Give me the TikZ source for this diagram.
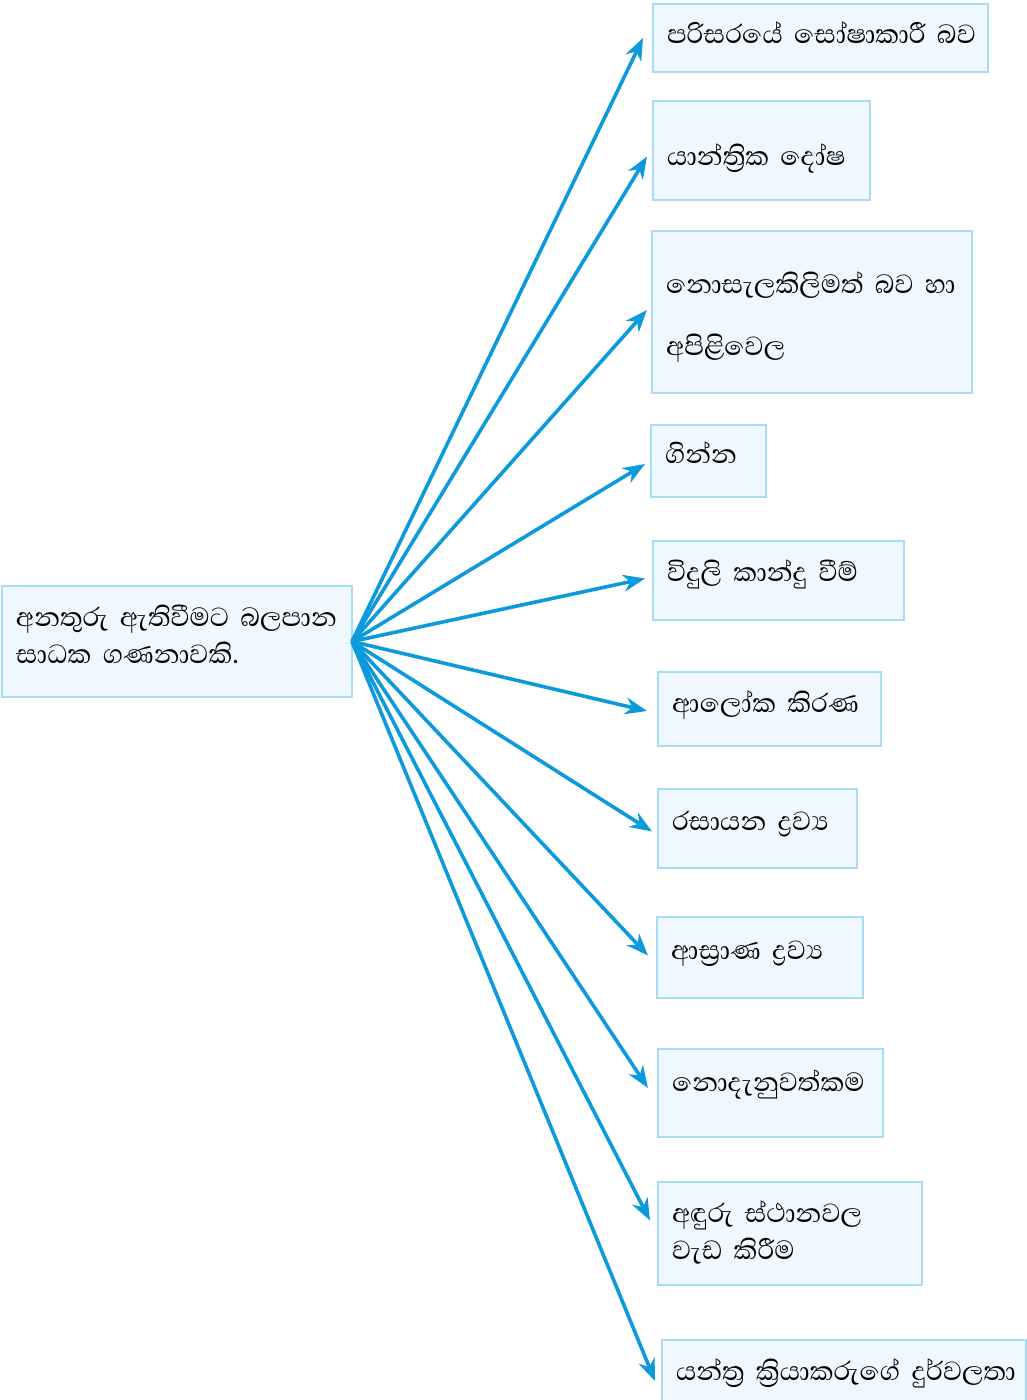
\documentclass[tikz,border=0pt]{standalone}
\usepackage{fontspec}
\newfontfamily\sinhala[Script=Sinhala]{Abhaya Libre}
\usetikzlibrary{arrows.meta,calc}
\definecolor{boxline}{HTML}{A6DCF5}
\definecolor{boxfill}{HTML}{EFF8FE}
\definecolor{arrowblue}{HTML}{0C9ADD}
% set left-aligned lines, moved up by #1 without changing the box size
\newcommand\shiftlines[2]{\raisebox{#1}[\height][\depth]{\begin{tabular}{@{}l@{}}#2\end{tabular}}}
\begin{document}
\begin{tikzpicture}[x=1pt,y=-1pt,
  factor/.style={draw=boxline, fill=boxfill, line width=2.8pt, rectangle,
    anchor=north west, inner xsep=14pt, inner ysep=0pt, outer sep=0pt,
    align=left, font=\sinhala\fontsize{33.6}{37}\selectfont},
  link/.style={draw=arrowblue, line width=3.6pt,
    -{Stealth[length=22pt,width=17pt,inset=7pt]}}]
\useasboundingbox (0,0) rectangle (1027,1400);

% central cause box
\node[factor, minimum width=350pt, minimum height=111pt, text width=322pt] (c) at (2,586)
  {\shiftlines{4pt}{අනතුරු ඇතිවීමට බලපාන\\සාධක ගණනාවකි.}};

% factor boxes
\node[factor, minimum width=335pt, minimum height=68pt, text width=307pt] (b1) at (653,4)
  {\shiftlines{2pt}{පරිසරයේ සෝෂාකාරී බව}};
\node[factor, minimum width=217pt, minimum height=99pt, text width=189pt] (b2) at (653,101)
  {\shiftlines{-8pt}{යාන්ත්^^^^200dරික දෝෂ}};
\node[factor, minimum width=320pt, minimum height=162pt, text width=292pt] (b3) at (652,231)
  {\shiftlines{-5pt}{නොසැලකිලිමත් බව හා\\[25pt]අපිළිවෙල}};
\node[factor, minimum width=115pt, minimum height=72pt, text width=87pt] (b4) at (651,425)
  {\shiftlines{5pt}{ගින්න}};
\node[factor, minimum width=251pt, minimum height=79pt, text width=223pt] (b5) at (653,541)
  {\shiftlines{6pt}{විදුලි කාන්දු වීම්}};
\node[factor, minimum width=223pt, minimum height=74pt, text width=195pt] (b6) at (658,672)
  {\shiftlines{4pt}{ආලෝක කිරණ}};
\node[factor, minimum width=199pt, minimum height=79pt, text width=171pt] (b7) at (658,789)
  {\shiftlines{5pt}{රසායන ද්^^^^200dරව්^^^^200dය}};
\node[factor, minimum width=206pt, minimum height=81pt, text width=178pt] (b8) at (657,917)
  {\shiftlines{5pt}{ආස්^^^^200dරාණ ද්^^^^200dරව්^^^^200dය}};
\node[factor, minimum width=225pt, minimum height=88pt, text width=197pt] (b9) at (658,1049)
  {\shiftlines{9pt}{නොදැනුවත්කම}};
\node[factor, minimum width=264pt, minimum height=103pt, text width=236pt] (b10) at (658,1182)
  {\shiftlines{0pt}{අඳුරු ස්ථානවල\\වැඩ කිරීම}};
\node[factor, minimum width=364pt, minimum height=62pt, text width=336pt] (b11) at (662,1340)
  {\shiftlines{-2pt}{යන්ත්^^^^200dර ක්^^^^200dරියාකරුගේ දුර්වලතා}};

% connectors fanning out from the central box
\draw[link] (c.east) -- ($(b1.west)+(-10,0)$);
\draw[link] (c.east) -- ($(b2.west)+(-6,6)$);
\draw[link] (c.east) -- ($(b3.west)+(-5,-2)$);
\draw[link] (c.east) -- ($(b4.west)+(-6,3)$);
\draw[link] (c.east) -- ($(b5.west)+(-8,-2)$);
\draw[link] (c.east) -- ($(b6.west)+(-11,2)$);
\draw[link] (c.east) -- ($(b7.west)+(-6,3)$);
\draw[link] (c.east) -- ($(b8.west)+(-9,-2)$);
\draw[link] (c.east) -- ($(b9.west)+(-10,-5)$);
\draw[link] (c.east) -- ($(b10.west)+(-8,-13)$);
\draw[link] (c.east) -- ($(b11.west)+(-7,10)$);
\end{tikzpicture}
\end{document}
